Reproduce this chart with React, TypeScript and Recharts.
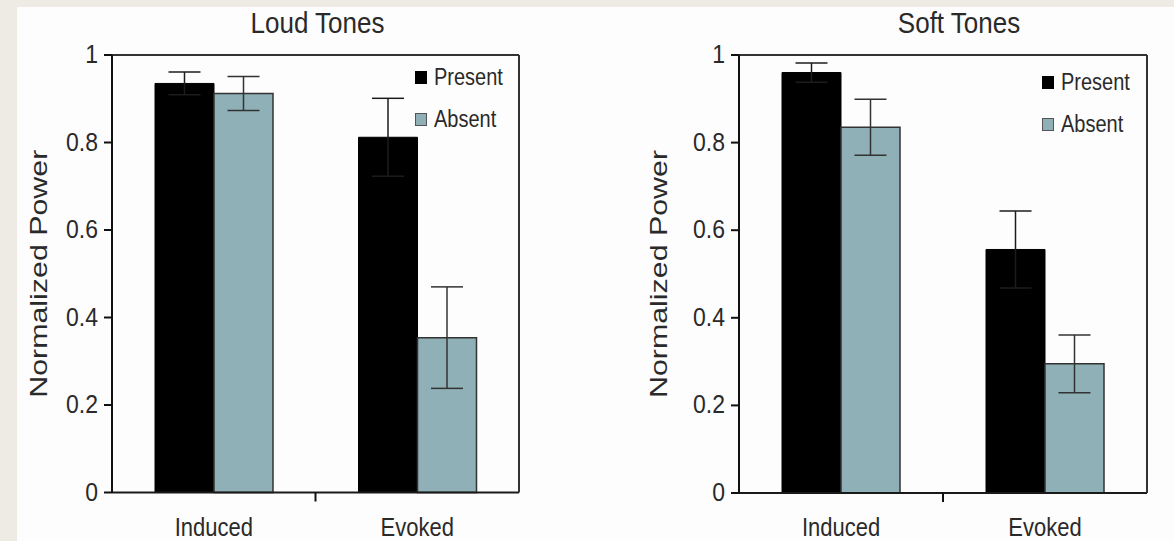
import React from "react";
import { BarChart, Bar, XAxis, YAxis, ErrorBar, Legend } from "recharts";

const CATEGORIES = ["Induced", "Evoked"];
const Y_TICKS = [0, 0.2, 0.4, 0.6, 0.8, 1];
const SERIES_ORDER = ["Present", "Absent"];

// Loud tones
const LOUD_PRESENT = [0.935, 0.812];
const LOUD_PRESENT_ERR = [0.026, 0.089];
const LOUD_ABSENT = [0.912, 0.354];
const LOUD_ABSENT_ERR = [0.039, 0.116];

// Soft tones
const SOFT_PRESENT = [0.96, 0.556];
const SOFT_PRESENT_ERR = [0.022, 0.088];
const SOFT_ABSENT = [0.835, 0.295];
const SOFT_ABSENT_ERR = [0.064, 0.066];

const FONT = '"Liberation Sans", Arial, Helvetica, sans-serif';
const INK = "#2a2a2a";
const TEAL = "#8fb0b7";
const STRETCH = 1.15;

function buildRows(present: number[], presentErr: number[], absent: number[], absentErr: number[]) {
  return CATEGORIES.map((name, i) => ({
    name,
    present: present[i],
    presentErr: presentErr[i],
    absent: absent[i],
    absentErr: absentErr[i],
  }));
}

const loudRows = buildRows(LOUD_PRESENT, LOUD_PRESENT_ERR, LOUD_ABSENT, LOUD_ABSENT_ERR);
const softRows = buildRows(SOFT_PRESENT, SOFT_PRESENT_ERR, SOFT_ABSENT, SOFT_ABSENT_ERR);

function YTick({ x, y, payload }: any) {
  return (
    <text
      x={0}
      y={0}
      transform={`translate(${x},${y + 8}) scale(1,${STRETCH})`}
      textAnchor="end"
      fontSize={23}
      fontFamily={FONT}
      fill={INK}
    >
      {payload.value}
    </text>
  );
}

// category label, plus the small divider tick between groups (at the band edge)
function XTick({ x, y, payload, index, width }: any) {
  const half = payload.offset ?? width / (2 * CATEGORIES.length);
  return (
    <g>
      {index > 0 && (
        <line x1={x - half} x2={x - half} y1={y} y2={y + 9} stroke="#111" strokeWidth={2} />
      )}
      <text
        x={0}
        y={0}
        transform={`translate(${x},${y + 43}) scale(1,${STRETCH})`}
        textAnchor="middle"
        fontSize={22}
        fontFamily={FONT}
        fill={INK}
      >
        {payload.value}
      </text>
    </g>
  );
}

const yLabel = (baseX: number) => (props: any) => {
  const vb = props.viewBox;
  const cy = vb.y + vb.height / 2;
  return (
    <text
      x={baseX}
      y={cy}
      transform={`rotate(-90, ${baseX}, ${cy})`}
      textAnchor="middle"
      fontSize={24}
      fontFamily={FONT}
      fill={INK}
      textLength={248}
      lengthAdjust="spacingAndGlyphs"
    >
      Normalized Power
    </text>
  );
};

const titleLabel = (text: string, dx: number) => (props: any) => {
  const vb = props.viewBox;
  const cx = vb.x + vb.width / 2 + dx;
  return (
    <text
      x={0}
      y={0}
      transform={`translate(${cx},33) scale(1,${STRETCH})`}
      textAnchor="middle"
      fontSize={26}
      fontFamily={FONT}
      fill={INK}
    >
      {text}
    </text>
  );
};

function LegendBox({ payload }: any) {
  const items = [...(payload || [])].sort(
    (a: any, b: any) => SERIES_ORDER.indexOf(a.value) - SERIES_ORDER.indexOf(b.value)
  );
  return (
    <div style={{ fontFamily: FONT }}>
      {items.map((e: any) => (
        <div key={e.value} style={{ display: "flex", alignItems: "center", height: 42 }}>
          <span
            style={{
              display: "inline-block",
              width: 12,
              height: 13,
              boxSizing: "border-box",
              background: e.color,
              border: `1.5px solid ${e.value === "Absent" ? "#555" : "#000"}`,
            }}
          />
          <span
            style={{
              marginLeft: 7,
              fontSize: 20,
              color: INK,
              display: "inline-block",
              transform: `scaleY(${STRETCH})`,
            }}
          >
            {e.value}
          </span>
        </div>
      ))}
    </div>
  );
}

interface PanelProps {
  rows: any[];
  title: string;
  titleDx: number;
  axisWidth: number;
  rightMargin: number;
  xAxisHeight: number;
  labelX: number;
  legendLeft: number;
  legendTop: number;
}

function Panel({ rows, title, titleDx, axisWidth, rightMargin, xAxisHeight, labelX, legendLeft, legendTop }: PanelProps) {
  return (
    <BarChart
      width={587}
      height={541}
      data={rows}
      margin={{ top: 54, right: rightMargin, bottom: 0, left: 0 }}
      barGap={0}
    >
      <XAxis
        dataKey="name"
        height={xAxisHeight}
        tick={<XTick />}
        tickLine={false}
        tickSize={0}
        tickMargin={0}
        interval={0}
        axisLine={{ stroke: "#1a1a1a", strokeWidth: 2 }}
      />
      <XAxis
        xAxisId="top"
        dataKey="name"
        orientation="top"
        height={1}
        tick={false}
        tickLine={false}
        axisLine={{ stroke: "#333", strokeWidth: 2 }}
        label={{ content: titleLabel(title, titleDx) }}
      />
      <YAxis
        domain={[0, 1]}
        ticks={Y_TICKS}
        interval={0}
        width={axisWidth}
        tick={<YTick />}
        tickSize={8}
        tickMargin={6}
        tickLine={{ stroke: "#111", strokeWidth: 2 }}
        axisLine={{ stroke: "#111", strokeWidth: 2 }}
        label={{ content: yLabel(labelX) }}
      />
      <YAxis
        yAxisId="right"
        orientation="right"
        width={1}
        tick={false}
        tickLine={false}
        axisLine={{ stroke: "#333", strokeWidth: 2 }}
      />
      <Legend
        layout="vertical"
        align="center"
        verticalAlign="middle"
        content={<LegendBox />}
        wrapperStyle={{ left: legendLeft, top: legendTop, width: "auto" }}
      />
      <Bar dataKey="present" name="Present" fill="#000" stroke="#000" barSize={59} isAnimationActive={false}>
        <ErrorBar dataKey="presentErr" width={16} stroke="#1c1c1c" strokeWidth={1.5} isAnimationActive={false} />
      </Bar>
      <Bar dataKey="absent" name="Absent" fill={TEAL} stroke="#333" strokeWidth={1.5} barSize={59} isAnimationActive={false}>
        <ErrorBar dataKey="absentErr" width={16} stroke="#333" strokeWidth={1.5} isAnimationActive={false} />
      </Bar>
    </BarChart>
  );
}

export default function App() {
  return (
    <div style={{ position: "absolute", left: 0, top: 0, width: 1174, height: 541, background: "#eeebe5", overflow: "hidden" }}>
      <div style={{ position: "absolute", left: 17, top: 7, width: 1157, height: 534, background: "#fdfdfd" }} />
      <div style={{ position: "absolute", left: 0, top: 0 }}>
        <Panel
          rows={loudRows}
          title="Loud Tones"
          titleDx={2}
          axisWidth={112}
          rightMargin={67}
          xAxisHeight={48.5}
          labelX={47}
          legendLeft={415}
          legendTop={56}
        />
      </div>
      <div style={{ position: "absolute", left: 587, top: 0 }}>
        <Panel
          rows={softRows}
          title="Soft Tones"
          titleDx={16}
          axisWidth={152}
          rightMargin={26}
          xAxisHeight={48}
          labelX={80}
          legendLeft={455}
          legendTop={61}
        />
      </div>
    </div>
  );
}
